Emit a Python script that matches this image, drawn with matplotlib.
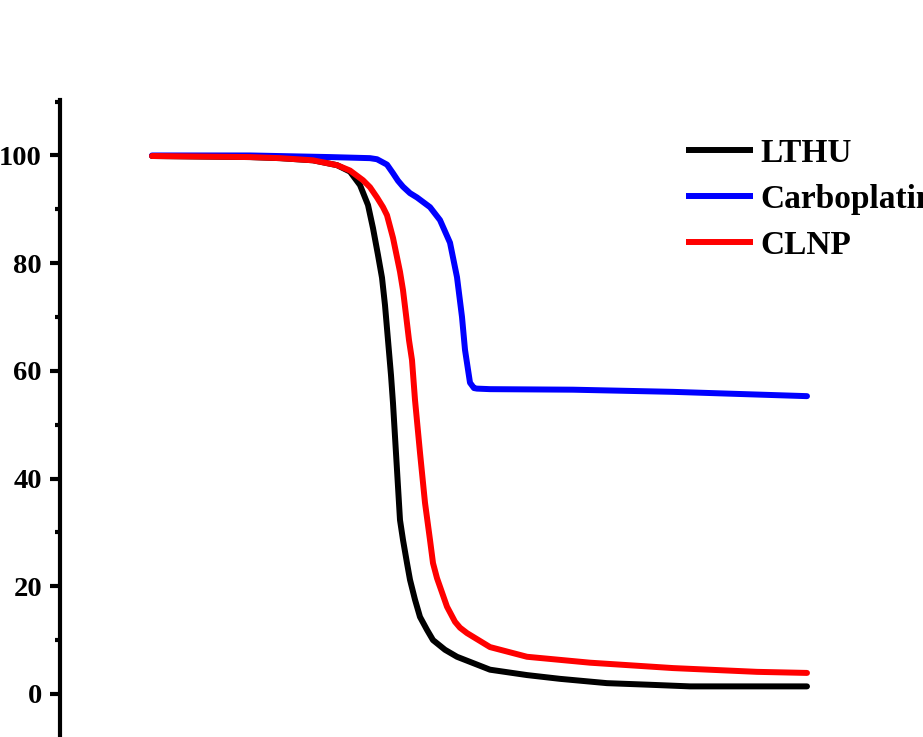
import numpy as np
import matplotlib
matplotlib.use("Agg")
import matplotlib.pyplot as plt
from matplotlib.ticker import MultipleLocator

# x positions are in arbitrary units (the reference shows no x axis)
lthu_x = [92, 140, 190, 220, 253, 277, 290, 300, 308, 313, 318, 322, 325, 328,
          331, 333, 337, 340, 343, 347, 350, 355, 360, 367, 373, 385, 397, 430,
          467, 500, 547, 590, 630, 690, 747]
lthu_y = [99.9, 99.8, 99.7, 99.5, 99.1, 98.2, 97.0, 94.5, 90.8, 86.5, 81.5,
          77.3, 72.2, 65.7, 59.2, 54.0, 41.6, 32.3, 28.6, 24.3, 21.2, 17.5,
          14.3, 11.9, 10.0, 8.2, 6.9, 4.5, 3.5, 2.8, 2.0, 1.7, 1.4, 1.4, 1.4]

clnp_x = [92, 140, 190, 220, 253, 277, 290, 303, 310, 317, 323, 327, 333, 338,
          340, 343, 346, 349, 352, 355, 360, 365, 370, 373, 377, 387, 395, 400,
          407, 430, 467, 530, 613, 697, 747]
clnp_y = [99.9, 99.8, 99.7, 99.5, 99.1, 98.2, 97.2, 95.4, 94.1, 92.2, 90.4,
          88.9, 84.7, 80.2, 78.4, 75.0, 70.4, 65.7, 62.0, 54.6, 44.8, 35.5,
          28.6, 24.3, 21.5, 16.2, 13.4, 12.3, 11.3, 8.7, 6.9, 5.8, 4.8, 4.1, 3.9]

carbo_x = [92, 190, 270, 310, 317, 323, 327, 333, 338, 343, 350, 357, 370, 380,
           390, 397, 402, 405, 410, 414, 417, 430, 513, 613, 747]
carbo_y = [100.0, 100.0, 99.7, 99.5, 99.3, 98.7, 98.3, 96.7, 95.3, 94.2, 93.0,
           92.2, 90.4, 88.0, 83.8, 77.4, 70.0, 63.9, 57.8, 56.8, 56.7, 56.6,
           56.5, 56.1, 55.3]

names = ["LTHU", "Carboplatin", "CLNP"]
colors = ["black", "#0000ff", "#ff0000"]

plt.rcParams["font.family"] = ["Liberation Serif", "DejaVu Serif"]
plt.rcParams["font.weight"] = "bold"

fig = plt.figure(figsize=(9.23, 7.37), dpi=100)
ax = fig.add_axes([60 / 923, 0, 1 - 60 / 923, 1 - 100 / 737])

series = [(lthu_x, lthu_y), (carbo_x, carbo_y), (clnp_x, clnp_y)]
for (xs, ys), name, c in zip(series, names, colors):
    ax.plot(xs, ys, color=c, lw=4.3, label=name,
            solid_capstyle="round", solid_joinstyle="round")

ax.set_xlim(0, 863)
ax.set_ylim(-8.0, 110.3)

for s in ["top", "right", "bottom"]:
    ax.spines[s].set_visible(False)
ax.spines["left"].set_linewidth(3)
ax.spines["left"].set_capstyle("projecting")
ax.set_xticks([])

ax.yaxis.set_major_locator(MultipleLocator(20))
ax.yaxis.set_minor_locator(MultipleLocator(10))
ax.tick_params(axis="y", which="major", direction="out", length=7, width=3,
               labelsize=20.5, pad=6)
ax.tick_params(axis="y", which="minor", direction="out", length=3.5, width=3)
for lab in ax.get_yticklabels():
    lab.set_fontweight("bold")

# legend runs past the right edge, as in the reference
leg = ax.legend(loc="upper left", bbox_to_anchor=(686 / 923, 1 - 138 / 737),
                bbox_transform=fig.transFigure, frameon=False,
                prop={"size": 24, "weight": "bold"},
                handlelength=2.0, handletextpad=0.24, labelspacing=0.45,
                borderpad=0, borderaxespad=0)
for line in leg.get_lines():
    line.set_linewidth(4.3)
    line.set_solid_capstyle("butt")

fig.savefig("out.png", dpi=100)
